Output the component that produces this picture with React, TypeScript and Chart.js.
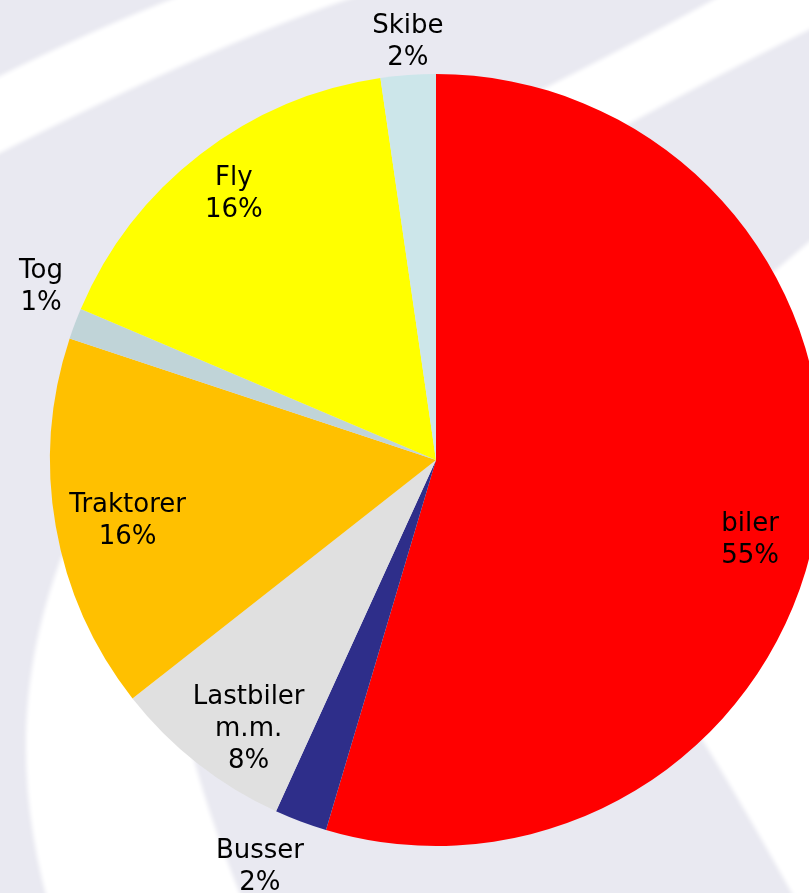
import React, { useEffect, useRef } from "react";
import { Chart, registerables } from "chart.js";

Chart.register(...registerables);

// ---- data ----
const CATEGORIES = ["biler", "Busser", "Lastbiler\nm.m.", "Traktorer", "Tog", "Fly", "Skibe"];
const SHARES = [54.6, 2.2, 7.6, 15.7, 1.3, 16.3, 2.3];

// ---- style ----
const COLORS = ["#FF0000", "#2E2E8A", "#E0E0E0", "#FFC000", "#C0D4D8", "#FFFF00", "#CCE6EA"];
const LABEL_RADIUS = [0.838, 1.143, 0.845, 0.813, 1.12, 0.87, 1.091];
const LABEL_ANGLE_SHIFT = [5.6, 3.0, -3.1, -0.8, 3.3, 0.6, 0.3];
const BG = "rgb(233,233,241)";
const FONT = "26px 'DejaVu Sans', Verdana, sans-serif";
const LINE_H = 32;

const backgroundPlugin = {
  id: "swooshBackground",
  beforeDraw(chart: any) {
    const ctx = chart.ctx as CanvasRenderingContext2D;
    const w = chart.width;
    const h = chart.height;
    ctx.save();
    ctx.fillStyle = BG;
    ctx.fillRect(0, 0, w, h);
    ctx.filter = "blur(2px)";
    ctx.fillStyle = "#FFFFFF";
    // top-left swoosh
    ctx.beginPath();
    ctx.moveTo(-20, 86);
    ctx.quadraticCurveTo(90, 30, 190, -8);
    ctx.lineTo(370, -8);
    ctx.quadraticCurveTo(225, 38, -20, 163);
    ctx.closePath();
    ctx.fill();
    // top-right swoosh
    ctx.beginPath();
    ctx.moveTo(480, 120);
    ctx.quadraticCurveTo(620, 52, 740, -15);
    ctx.lineTo(860, -15);
    ctx.lineTo(860, 5);
    ctx.quadraticCurveTo(720, 72, 560, 162);
    ctx.closePath();
    ctx.fill();
    // right region
    ctx.beginPath();
    ctx.moveTo(740, 300);
    ctx.lineTo(860, 199);
    ctx.lineTo(860, 930);
    ctx.lineTo(812, 930);
    ctx.quadraticCurveTo(748, 812, 690, 720);
    ctx.closePath();
    ctx.fill();
    // bottom-left swoosh
    ctx.beginPath();
    ctx.moveTo(110, 560);
    ctx.lineTo(62, 556);
    ctx.bezierCurveTo(15, 680, 15, 800, 56, 930);
    ctx.lineTo(255, 930);
    ctx.quadraticCurveTo(212, 830, 190, 745);
    ctx.lineTo(150, 650);
    ctx.closePath();
    ctx.fill();
    ctx.restore();
  },
};

const labelPlugin = {
  id: "sliceLabels",
  afterDatasetsDraw(chart: any) {
    const ctx = chart.ctx as CanvasRenderingContext2D;
    const meta = chart.getDatasetMeta(0);
    const values: number[] = chart.data.datasets[0].data;
    const total = values.reduce((a, b) => a + b, 0);
    ctx.save();
    ctx.font = FONT;
    ctx.fillStyle = "#000000";
    ctx.textAlign = "center";
    ctx.textBaseline = "alphabetic";
    meta.data.forEach((arc: any, i: number) => {
      const p = arc.getProps(["x", "y", "startAngle", "endAngle", "outerRadius"], true);
      const mid = (p.startAngle + p.endAngle) / 2 + (LABEL_ANGLE_SHIFT[i] * Math.PI) / 180;
      const r = p.outerRadius * LABEL_RADIUS[i];
      const cx = p.x + Math.cos(mid) * r;
      const cy = p.y + Math.sin(mid) * r;
      const pct = Math.round((values[i] / total) * 100) + "%";
      const lines = String(chart.data.labels[i]).split("\n").concat([pct]);
      const n = lines.length;
      lines.forEach((t, j) => {
        const y = cy + (j - (n - 1) / 2) * LINE_H + 9.5;
        ctx.fillText(t, cx, y);
      });
    });
    ctx.restore();
  },
};

export default function App() {
  const ref = useRef<HTMLCanvasElement | null>(null);
  useEffect(() => {
    if (!ref.current) return;
    const chart = new Chart(ref.current, {
      type: "pie",
      data: {
        labels: CATEGORIES,
        datasets: [
          {
            data: SHARES,
            backgroundColor: COLORS,
            borderWidth: 0,
            hoverOffset: 0,
          },
        ],
      },
      options: {
        responsive: false,
        animation: false,
        devicePixelRatio: 1,
        layout: { padding: { left: 50, right: 50, top: 74, bottom: 74 } },
        plugins: {
          legend: { display: false },
          tooltip: { enabled: false },
        },
      },
      plugins: [backgroundPlugin, labelPlugin],
    });
    return () => chart.destroy();
  }, []);
  return (
    <div
      style={{
        position: "fixed",
        left: 0,
        top: 0,
        width: 809,
        height: 893,
        overflow: "hidden",
        background: BG,
      }}
    >
      <canvas ref={ref} width={872} height={920} style={{ display: "block" }} />
    </div>
  );
}
